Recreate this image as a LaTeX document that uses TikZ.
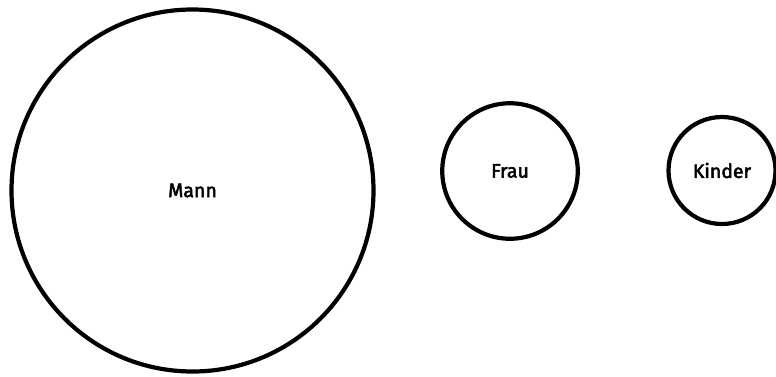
\documentclass[tikz,border=0pt]{standalone}
\usepackage{fontspec}
\setmainfont{Fira Sans}
\newfontfamily\labelfont[FakeBold=2.5]{Fira Sans}
\begin{document}
\begin{tikzpicture}[x=1pt,y=-1pt,
  ring/.style={draw=black,line width=4.2pt,circle,inner sep=0pt,font=\labelfont\fontsize{19.5}{21}\selectfont}]
\useasboundingbox (0,0) rectangle (776,376);
\node[ring,minimum size=362pt] (mann) at (192.5,190.5) {Mann};
\node[ring,minimum size=135.5pt] (frau) at (510,171) {Frau};
\node[ring,minimum size=107pt] (kinder) at (722,170.5) {Kinder};
\end{tikzpicture}
\end{document}
